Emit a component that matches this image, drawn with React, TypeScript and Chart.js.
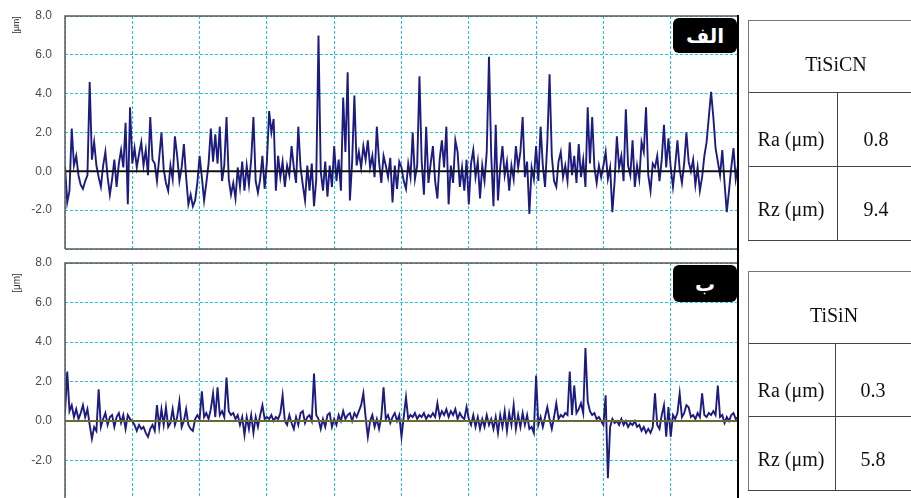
import React, { useEffect, useRef } from "react";
import { Chart, registerables } from "chart.js";

Chart.register(...registerables);

// ---- tick / label text ----
const yMin = -4;
const yMax = 8;
const yStep = 2;
const unitLabel = "[μm]";
const badgeLabels = ["الف", "ب"];
const tableTitles = ["TiSiCN", "TiSiN"];
const rowLabels = ["Ra (μm)", "Rz (μm)"];
const raValues = ["0.8", "0.3"];
const rzValues = ["9.4", "5.8"];
const pointsPerCell = 30;

// ---- top profile (TiSiCN), one array per grid cell of the x axis ----
const topCell0 = [0.3, -1.6, -1.0, 2.2, 0.3, 0.8, -0.2, -0.7, -0.9, -0.5, -0.2, 4.6, 0.6, 1.5, 0.3, -0.3, -0.8, 0.3, 1.0, -0.3, -1.2, -0.4, 0.6, -0.8, 0.4, 1.1, 0.2, 2.5, -1.7, 3.3];
const topCell1 = [0.4, 1.2, 0.2, 0.9, 1.5, 0.3, 1.1, -0.2, 2.8, 0.6, 0.4, -0.5, 0.7, 2.0, 0.1, -0.6, -1.0, 0.3, -0.4, 1.8, 0.8, -0.5, 0.2, 1.4, -0.3, -1.7, -1.2, -1.8, -1.5, -0.6];
const topCell2 = [0.8, -0.3, -1.5, -0.6, 0.4, 2.2, 0.5, 1.9, 0.4, 2.3, -0.5, 0.3, 2.8, -0.4, -1.2, -0.6, -1.4, 0.2, -0.8, 0.5, -1.0, 0.3, -0.7, 0.6, 2.8, -0.5, -1.1, -0.4, 0.8, -0.9];
const topCell3 = [0.5, 3.1, 2.0, 2.7, -1.0, 0.8, -0.3, 0.5, -0.8, 0.3, -0.2, 1.3, 0.2, -0.6, 2.3, 0.2, -0.7, -1.5, 0.3, -1.0, 0.4, -1.8, -0.4, 7.0, 0.0, -1.0, 0.5, -1.3, 0.3, -0.8];
const topCell4 = [1.3, -0.5, 0.6, -1.0, 3.8, 1.0, 5.1, -1.5, 0.5, 3.9, 0.3, 1.0, 0.2, 1.3, 0.6, 1.6, 0.2, 0.8, -0.3, 2.3, 0.5, -0.6, 0.8, 0.3, -0.3, 0.7, -1.6, 0.3, -0.9, 0.5];
const topCell5 = [0.2, -0.5, -0.9, 0.4, -0.3, 2.0, -0.4, 0.3, 4.9, 0.5, -1.2, 2.3, -0.6, 0.4, 1.3, -0.5, -1.4, 0.6, 1.6, 0.2, 2.3, -1.7, 0.3, -0.6, 1.6, 1.0, -0.8, 0.2, -1.0, 0.6];
const topCell6 = [-1.7, 0.4, 1.1, -0.3, 0.5, -1.4, 0.3, -0.5, 1.0, 5.9, 0.8, -1.8, 2.4, -1.5, 0.2, 1.3, -0.2, 0.5, -1.0, 0.3, -0.4, 1.3, 0.2, 1.0, 2.8, -0.3, 0.5, -2.2, 0.2, -0.4];
const topCell7 = [1.3, -0.5, 2.3, 0.3, -0.8, 1.5, 5.0, 0.8, -0.5, -0.8, 0.5, 1.0, -0.3, 0.3, -0.5, 1.5, -0.2, 0.8, -0.6, 1.4, -0.3, 0.6, -0.8, 3.3, 0.4, 2.8, 0.2, -0.6, 0.3, -0.3];
const topCell8 = [0.3, 1.0, -0.4, 0.2, -2.1, -0.5, 1.8, 0.2, 0.8, -0.5, 3.2, 0.3, -0.2, 1.6, -0.8, 0.3, -0.4, 1.5, 1.0, 3.3, -0.2, -1.0, 0.4, 0.2, 0.8, -0.5, 0.6, 2.4, 0.2, 1.7];
const topCell9 = [0.2, -0.8, 0.3, 1.6, 0.1, -0.6, 0.4, 2.0, 0.5, 0.0, 0.6, -0.7, 0.2, -1.0, -0.3, 0.8, 1.5, 2.8, 4.1, 2.8, 1.2, 0.5, -0.2, 1.1, -0.6, -2.1, -1.0, 0.2, 1.2, -0.4];
const topEnd = [0.3];

// ---- bottom profile (TiSiN) ----
const botCell0 = [0.4, 2.5, 0.5, 0.8, 0.2, 0.6, 0.1, 0.4, 0.8, 0.2, 0.6, -0.2, -0.9, -0.3, -0.5, 1.6, -0.3, 0.1, 0.4, -0.2, 0.2, 0.3, -0.3, 0.2, 0.4, -0.1, 0.3, -0.4, 0.3, 0.1];
const botCell1 = [0.0, -0.2, -0.5, -0.2, -0.4, -0.3, -0.6, -0.8, -0.4, -0.2, -0.5, 0.8, -0.3, 0.6, -0.2, 0.7, -0.3, -0.1, 0.6, -0.2, 0.2, 1.0, -0.3, 0.0, 0.6, -0.2, -0.4, -0.5, 0.1, 0.3];
const botCell2 = [0.1, 1.5, 0.2, 0.4, 0.1, 0.6, 1.4, 0.2, 1.7, 0.3, 0.5, 0.2, 2.2, 0.5, 0.3, 0.4, 0.1, 0.3, -0.2, 0.2, -0.7, 0.2, -0.4, 0.3, -0.6, 0.2, -0.3, 0.3, 0.8, 0.1];
const botCell3 = [0.2, 0.1, 0.3, 0.0, 0.2, 0.1, 0.4, 1.3, 0.0, -0.2, 0.3, -0.1, -0.4, 0.2, -0.2, 0.4, 0.5, -0.1, 0.2, 0.3, 0.0, 2.4, 0.3, 0.1, -0.4, 0.1, -0.3, 0.3, 0.4, -0.3];
const botCell4 = [0.1, -0.2, 0.3, 0.0, 0.5, 0.1, 0.3, 0.4, 0.0, 0.4, 0.2, 0.5, 0.8, 1.4, 0.2, -0.8, 0.0, 0.3, -0.3, 0.1, -0.4, 0.2, 1.7, 0.1, 0.3, -0.1, 0.2, 0.4, 0.0, 0.3];
const botCell5 = [-0.8, 0.2, 1.2, 0.1, 0.3, 0.2, 0.4, 0.1, 0.3, 0.2, 0.4, 0.1, 0.3, 0.2, 0.4, 0.2, 0.9, 0.2, 0.5, 0.3, 0.6, 0.2, 0.5, 0.3, 0.6, 0.1, 0.4, 0.2, 0.1, 0.7];
const botCell6 = [0.1, -0.2, 0.3, -0.3, 0.2, -0.4, 0.1, -0.3, 0.3, -0.2, 0.1, -0.4, 0.2, -0.6, 0.3, -0.3, 0.5, -0.5, 0.4, -0.2, 0.8, -0.4, 0.3, -0.3, 0.4, -0.2, 0.3, -0.4, -0.3, -0.6];
const botCell7 = [2.3, -0.2, 0.2, -0.3, 0.2, 0.7, 0.1, -0.4, 0.2, 0.9, 0.1, 0.3, 0.2, 0.4, 0.3, 2.5, 0.3, 1.8, 0.4, 0.6, 0.9, 0.4, 3.7, 1.0, 0.5, 0.3, 0.4, 0.1, 0.2, 0.0];
const botCell8 = [-0.2, 1.3, -2.9, -0.3, 0.1, -0.1, 0.0, -0.2, 0.1, -0.2, 0.0, -0.3, -0.1, -0.2, 0.0, -0.3, -0.2, -0.5, -0.3, -0.6, -0.4, -0.6, -0.3, 1.4, -0.2, -0.4, 0.3, 0.8, -0.8, 0.7];
const botCell9 = [-0.8, 0.3, 0.1, 0.4, 1.4, 0.2, 0.4, 0.8, 0.7, 0.2, 0.3, 0.1, 0.4, 0.2, 1.4, 0.3, 0.2, 0.4, 0.3, 0.5, 0.3, 1.8, 0.2, 0.3, -0.1, 0.2, 0.0, 0.3, 0.4, 0.1];
const botEnd = [0.2];

const topProfile = [...topCell0, ...topCell1, ...topCell2, ...topCell3, ...topCell4, ...topCell5, ...topCell6, ...topCell7, ...topCell8, ...topCell9, ...topEnd];
const bottomProfile = [...botCell0, ...botCell1, ...botCell2, ...botCell3, ...botCell4, ...botCell5, ...botCell6, ...botCell7, ...botCell8, ...botCell9, ...botEnd];

type ProfileProps = {
  values: number[];
  top: number;
  canvasH: number;
  padTop: number;
  padBottom: number;
  zeroColor: string;
  titleY: number;
  titleSize: number;
};

function ProfileChart({ values, top, canvasH, padTop, padBottom, zeroColor, titleY, titleSize }: ProfileProps) {
  const ref = useRef<HTMLCanvasElement | null>(null);
  useEffect(() => {
    if (!ref.current) return;
    const pts = values.map((v, i) => ({ x: i / pointsPerCell, y: v }));
    const overlay = {
      id: "overlay",
      afterDatasetsDraw(chart: any) {
        const { ctx, chartArea: a, scales } = chart;
        const y0 = scales.y.getPixelForValue(0);
        ctx.save();
        ctx.strokeStyle = zeroColor;
        ctx.lineWidth = 2;
        ctx.beginPath();
        ctx.moveTo(a.left, y0);
        ctx.lineTo(a.right, y0);
        ctx.stroke();
        ctx.strokeStyle = "#5a5a5a";
        ctx.lineWidth = 1.5;
        ctx.beginPath();
        ctx.moveTo(a.left, a.bottom);
        ctx.lineTo(a.left, a.top);
        ctx.lineTo(a.right, a.top);
        ctx.stroke();
        ctx.beginPath();
        ctx.moveTo(a.left, a.bottom);
        ctx.lineTo(a.right, a.bottom);
        ctx.stroke();
        ctx.translate(17, titleY);
        ctx.rotate(-Math.PI / 2);
        ctx.fillStyle = "#333";
        ctx.font = `${titleSize}px Arial, "Liberation Sans", sans-serif`;
        ctx.textAlign = "center";
        ctx.textBaseline = "middle";
        ctx.fillText(unitLabel, 0, 0);
        ctx.restore();
      },
    };
    const gridColor = "#22c4e0";
    const chart = new Chart(ref.current, {
      type: "line",
      data: {
        datasets: [
          {
            data: pts,
            borderColor: "#1c1c80",
            borderWidth: 1.9,
            pointRadius: 0,
            tension: 0,
            fill: false,
          },
        ],
      },
      options: {
        animation: false,
        responsive: false,
        maintainAspectRatio: false,
        layout: { padding: { left: 0, right: 7, top: padTop, bottom: padBottom } },
        plugins: { legend: { display: false }, tooltip: { enabled: false } },
        scales: {
          x: {
            type: "linear",
            min: 0,
            max: 10,
            ticks: { display: false, stepSize: 1 },
            grid: { color: gridColor, lineWidth: 1, drawTicks: false },
            border: { display: false, dash: [3, 2] },
            afterFit: (s: any) => {
              s.height = 0;
              s.paddingLeft = 0;
              s.paddingRight = 0;
            },
          },
          y: {
            min: yMin,
            max: yMax,
            ticks: {
              stepSize: yStep,
              padding: 13,
              color: "#4a4a4a",
              font: { size: 12, family: "Arial, 'Liberation Sans', sans-serif" },
              callback: (v: any) => (Number(v) === yMin ? "" : Number(v).toFixed(1)),
            },
            grid: { color: gridColor, lineWidth: 1, drawTicks: false },
            border: { display: false, dash: [3, 2] },
            afterFit: (s: any) => {
              s.width = 65;
              s.paddingTop = 0;
              s.paddingBottom = 0;
            },
          },
        },
      },
      plugins: [overlay],
    } as any);
    return () => chart.destroy();
  }, []);
  return (
    <canvas
      ref={ref}
      width={745}
      height={canvasH}
      style={{ position: "absolute", left: 0, top, width: 745, height: canvasH }}
    />
  );
}

function Badge({ text, top, height }: { text: string; top: number; height: number }) {
  return (
    <div
      style={{
        position: "absolute",
        left: 673,
        top,
        width: 64,
        height,
        background: "#000",
        borderRadius: 6,
        color: "#fff",
        fontFamily: "'DejaVu Sans', sans-serif",
        fontWeight: "bold",
        fontSize: 20,
        display: "flex",
        alignItems: "center",
        justifyContent: "center",
        direction: "rtl",
      }}
    >
      {text}
    </div>
  );
}

function HLine({ x, y, w, color }: { x: number; y: number; w: number; color: string }) {
  return <div style={{ position: "absolute", left: x, top: y, width: w, height: 1, background: color }} />;
}
function VLine({ x, y, h, color }: { x: number; y: number; h: number; color: string }) {
  return <div style={{ position: "absolute", left: x, top: y, width: 1, height: h, background: color }} />;
}
function Cell({ text, cx, baseline }: { text: string; cx: number; baseline: number }) {
  return (
    <div
      style={{
        position: "absolute",
        left: cx - 60,
        top: baseline - 18,
        width: 120,
        height: 22,
        lineHeight: "22px",
        textAlign: "center",
        fontFamily: "'Liberation Serif', 'Times New Roman', serif",
        fontSize: 20,
        color: "#111",
        whiteSpace: "nowrap",
      }}
    >
      {text}
    </div>
  );
}

function ValueTable({ idx, rows, divX, titleCx, valCx }: { idx: number; rows: number[]; divX: number; titleCx: number; valCx: number }) {
  const left = 748;
  const right = 925;
  const c = "#444";
  return (
    <>
      <HLine x={left} y={rows[0]} w={right - left} color="#777" />
      <HLine x={left} y={rows[1]} w={right - left} color={c} />
      <HLine x={left} y={rows[2]} w={right - left} color={c} />
      <HLine x={left} y={rows[3]} w={right - left} color={c} />
      <VLine x={left} y={rows[0]} h={rows[3] - rows[0]} color="#777" />
      <VLine x={divX} y={rows[1]} h={rows[3] - rows[1]} color={c} />
      <Cell text={tableTitles[idx]} cx={titleCx} baseline={rows[0] + 51} />
      <Cell text={rowLabels[0]} cx={791} baseline={rows[1] + 54} />
      <Cell text={raValues[idx]} cx={valCx} baseline={rows[1] + 54} />
      <Cell text={rowLabels[1]} cx={791} baseline={rows[2] + 50} />
      <Cell text={rzValues[idx]} cx={valCx} baseline={rows[2] + 50} />
    </>
  );
}

export default function App() {
  return (
    <div
      style={{
        position: "fixed",
        left: 0,
        top: 0,
        width: 911,
        height: 498,
        overflow: "hidden",
        background: "#fff",
      }}
    >
      <ProfileChart values={topProfile} top={0} canvasH={252} padTop={16} padBottom={3} zeroColor="#111" titleY={25} titleSize={9} />
      <ProfileChart values={bottomProfile} top={250} canvasH={252} padTop={13} padBottom={2} zeroColor="#6b6838" titleY={33} titleSize={10} />
      <div style={{ position: "absolute", left: 737, top: 15, width: 2, height: 490, background: "#000" }} />
      <Badge text={badgeLabels[0]} top={18} height={35} />
      <Badge text={badgeLabels[1]} top={265} height={37} />
      <ValueTable idx={0} rows={[20, 92, 166, 240]} divX={837} titleCx={836} valCx={876} />
      <ValueTable idx={1} rows={[271, 343, 416, 490]} divX={835} titleCx={834} valCx={873} />
    </div>
  );
}
